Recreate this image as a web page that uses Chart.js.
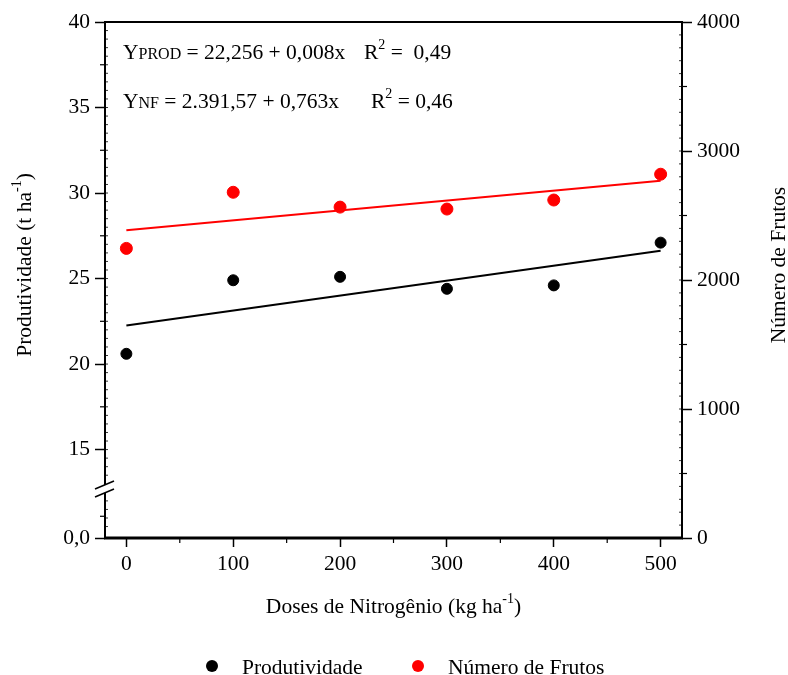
<!DOCTYPE html>
<html lang="pt">
<head>
<meta charset="utf-8">
<title>Produtividade e Número de Frutos</title>
<script src="https://cdn.jsdelivr.net/npm/chart.js@4.4.1/dist/chart.umd.min.js"></script>
<style>
  html, body { margin: 0; padding: 0; background: #fff; }
  #chart_container { width: 788px; height: 675px; }
</style>
</head>
<body>
<div id="chart_container"><canvas id="scatterChart"></canvas></div>
<script>
"use strict";

const doses = [0, 100, 200, 300, 400, 500];
const produtividade = [20.6, 24.9, 25.1, 24.4, 24.6, 27.1];
const numeroFrutos = [2245, 2680, 2565, 2550, 2620, 2820];

const fitDoses = [0, 500];
const produtividadeFit = [22.26, 26.62];
const numeroFrutosFit = [2385, 2770];

const xTicks = [0, 100, 200, 300, 400, 500];
const leftTicks = [15, 20, 25, 30, 35, 40];
const leftBreakLabel = "0,0";
const rightTicks = [0, 1000, 2000, 3000, 4000];

const FONT = "'Liberation Serif', 'Times New Roman', serif";
const FS = 21.5;
const LEFT_MIN = 9.83; // axis is broken below 15, bottom tick is "0,0"

setChart();

function setChart() {
  const ctx = document.getElementById("scatterChart");
  new Chart(ctx, {
    type: "scatter",
    data: {
      datasets: [
        {
          label: "Produtividade",
          data: toPoints(doses, produtividade),
          backgroundColor: "#000000",
          borderColor: "#000000",
          pointRadius: 5.5,
          yAxisID: "y",
        },
        {
          label: "Número de Frutos",
          data: toPoints(doses, numeroFrutos),
          backgroundColor: "#ff0000",
          borderColor: "#ff0000",
          pointRadius: 6,
          yAxisID: "y1",
        },
        {
          label: "fit_prod",
          data: toPoints(fitDoses, produtividadeFit),
          showLine: true,
          borderColor: "#000000",
          borderWidth: 2,
          pointRadius: 0,
          yAxisID: "y",
        },
        {
          label: "fit_nf",
          data: toPoints(fitDoses, numeroFrutosFit),
          showLine: true,
          borderColor: "#ff0000",
          borderWidth: 2,
          pointRadius: 0,
          yAxisID: "y1",
        },
      ],
    },
    options: {
      responsive: true,
      maintainAspectRatio: false,
      animation: false,
      layout: { padding: { top: 22, left: 0, right: 0, bottom: 0 } },
      plugins: {
        legend: { display: false },
        tooltip: { enabled: false },
      },
      scales: {
        x: {
          type: "linear",
          position: "bottom",
          min: -20,
          max: 520,
          afterBuildTicks: (axis) => {
            axis.ticks = xTicks.map((v) => ({ value: v }));
          },
          afterFit: (axis) => {
            axis.height = 137;
          },
          ticks: {
            font: { family: FONT, size: FS },
            color: "#000",
            padding: 4,
            maxRotation: 0,
            autoSkip: false,
            callback: (value) => String(value),
          },
          grid: {
            drawOnChartArea: false,
            tickLength: 9,
            tickWidth: 1.5,
            tickColor: "#000",
          },
          border: { display: false },
        },
        y: {
          type: "linear",
          position: "left",
          min: LEFT_MIN,
          max: 40,
          afterBuildTicks: (axis) => {
            axis.ticks = [LEFT_MIN].concat(leftTicks).map((v) => ({ value: v }));
          },
          afterFit: (axis) => {
            axis.width = 105;
          },
          ticks: {
            font: { family: FONT, size: FS },
            color: "#000",
            padding: 5,
            callback: (value) => (value < 15 ? leftBreakLabel : String(value)),
          },
          grid: {
            drawOnChartArea: false,
            tickLength: 10,
            tickWidth: 1.5,
            tickColor: "#000",
          },
          border: { display: false },
        },
        y1: {
          type: "linear",
          position: "right",
          min: 0,
          max: 4000,
          afterBuildTicks: (axis) => {
            axis.ticks = rightTicks.map((v) => ({ value: v }));
          },
          afterFit: (axis) => {
            axis.width = 106;
          },
          ticks: {
            font: { family: FONT, size: FS },
            color: "#000",
            padding: 5,
            callback: (value) => String(value),
          },
          grid: {
            drawOnChartArea: false,
            tickLength: 10,
            tickWidth: 1.5,
            tickColor: "#000",
          },
          border: { display: false },
        },
      },
    },
    plugins: [decorPlugin()],
  });
}

function toPoints(xs, ys) {
  return xs.map((x, i) => ({ x: x, y: ys[i] }));
}

// draws text runs with different sizes / offsets (for sub and superscripts)
function drawRuns(c, runs, x, y, align) {
  const widths = runs.map((r) => {
    c.font = r.size + "px " + FONT;
    return c.measureText(r.text).width;
  });
  const total = widths.reduce((a, b) => a + b, 0);
  let cx = align === "center" ? x - total / 2 : x;
  c.textAlign = "left";
  c.textBaseline = "alphabetic";
  runs.forEach((r, i) => {
    c.font = r.size + "px " + FONT;
    c.fillText(r.text, cx, y + (r.dy || 0));
    cx += widths[i];
  });
  return cx;
}

function decorPlugin() {
  return {
    id: "decor",
    afterDraw(chart) {
      const c = chart.ctx;
      const area = chart.chartArea;
      const sx = chart.scales.x;
      const sy = chart.scales.y;
      const sy1 = chart.scales.y1;
      c.save();
      c.strokeStyle = "#000";
      c.fillStyle = "#000";

      // frame
      c.lineWidth = 2;
      c.beginPath();
      c.moveTo(area.left, area.bottom);
      c.lineTo(area.left, area.top);
      c.lineTo(area.right, area.top);
      c.lineTo(area.right, area.bottom);
      c.stroke();
      c.lineWidth = 3;
      c.beginPath();
      c.moveTo(area.left - 1, area.bottom);
      c.lineTo(area.right + 1, area.bottom);
      c.stroke();

      // minor ticks
      c.lineWidth = 1.2;
      for (let v = 50; v <= 500; v += 100) {
        const px = sx.getPixelForValue(v);
        line(c, px, area.bottom, px, area.bottom + 5);
      }
      for (let v = 17.5; v < 40; v += 5) {
        const py = sy.getPixelForValue(v);
        line(c, area.left - 5, py, area.left, py);
      }
      const lowMinor = sy.getPixelForValue(11.1);
      line(c, area.left - 5, lowMinor, area.left, lowMinor);
      for (let v = 500; v < 4000; v += 1000) {
        const py = sy1.getPixelForValue(v);
        line(c, area.right, py, area.right + 5, py);
      }
      c.lineWidth = 0.8;
      for (let v = 10.5; v < 40; v += 0.5) {
        if (v > 12 && v < 13.5) continue;
        const py = sy.getPixelForValue(v);
        line(c, area.left, py, area.left + 3, py);
      }
      for (let v = 100; v < 4000; v += 100) {
        const py = sy1.getPixelForValue(v);
        line(c, area.right - 3, py, area.right, py);
      }

      // axis break
      c.fillStyle = "#fff";
      c.beginPath();
      c.moveTo(area.left - 10, 489);
      c.lineTo(area.left + 9, 481);
      c.lineTo(area.left + 9, 489);
      c.lineTo(area.left - 10, 497);
      c.closePath();
      c.fill();
      c.fillStyle = "#000";
      c.lineWidth = 1.5;
      line(c, area.left - 10, 489, area.left + 9, 481);
      line(c, area.left - 10, 497, area.left + 9, 489);

      // equations
      drawRuns(c, [
        { text: "Y", size: FS },
        { text: "PROD", size: 16 },
        { text: " = 22,256 + 0,008x", size: FS },
      ], 123, 59);
      drawRuns(c, [
        { text: "R", size: FS },
        { text: "2", size: 14, dy: -10 },
        { text: " =  0,49", size: FS },
      ], 364, 59);
      drawRuns(c, [
        { text: "Y", size: FS },
        { text: "NF", size: 16 },
        { text: " = 2.391,57 + 0,763x", size: FS },
      ], 123, 108);
      drawRuns(c, [
        { text: "R", size: FS },
        { text: "2", size: 14, dy: -10 },
        { text: " = 0,46", size: FS },
      ], 371, 108);

      // axis titles
      drawRuns(c, [
        { text: "Doses de Nitrogênio (kg ha", size: FS },
        { text: "-1", size: 14, dy: -10 },
        { text: ")", size: FS },
      ], (area.left + area.right) / 2, 613, "center");

      c.save();
      c.translate(31, 265);
      c.rotate(-Math.PI / 2);
      drawRuns(c, [
        { text: "Produtividade (t ha", size: FS },
        { text: "-1", size: 14, dy: -10 },
        { text: ")", size: FS },
      ], 0, 0, "center");
      c.restore();

      c.save();
      c.translate(785, 265);
      c.rotate(-Math.PI / 2);
      drawRuns(c, [{ text: "Número de Frutos", size: FS }], 0, 0, "center");
      c.restore();

      // legend
      const legendItems = [
        { ds: chart.data.datasets[0], dotX: 212, textX: 242 },
        { ds: chart.data.datasets[1], dotX: 418, textX: 448 },
      ];
      legendItems.forEach((item) => {
        c.fillStyle = item.ds.backgroundColor;
        c.beginPath();
        c.arc(item.dotX, 666, 6, 0, Math.PI * 2);
        c.fill();
        c.fillStyle = "#000";
        drawRuns(c, [{ text: item.ds.label, size: FS }], item.textX, 674);
      });

      c.restore();
    },
  };
}

function line(c, x1, y1, x2, y2) {
  c.beginPath();
  c.moveTo(x1, y1);
  c.lineTo(x2, y2);
  c.stroke();
}
</script>
</body>
</html>
